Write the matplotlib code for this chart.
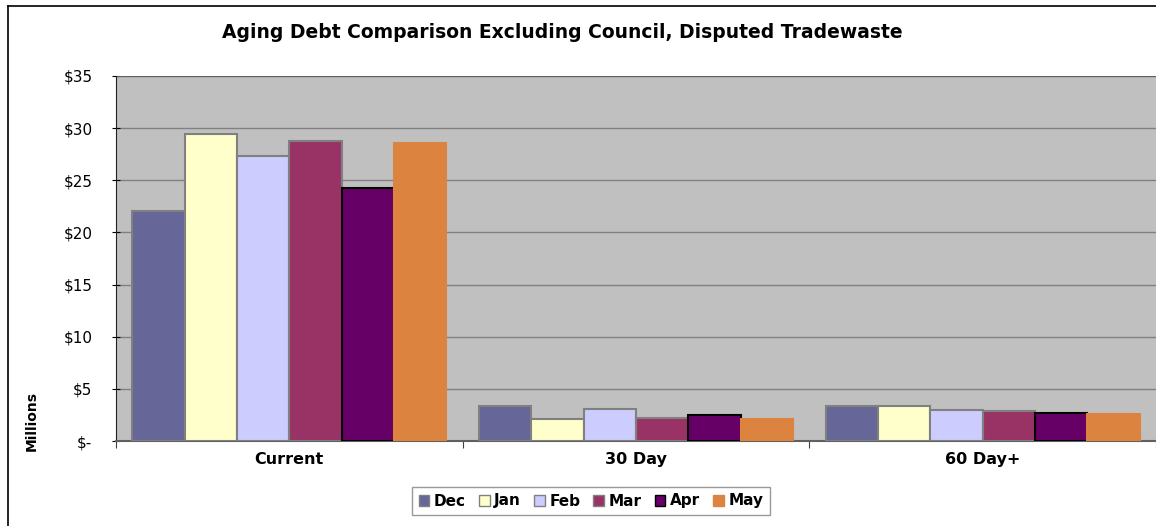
import numpy as np
import matplotlib
matplotlib.use('Agg')
import matplotlib.pyplot as plt
from matplotlib.patches import Patch
from matplotlib.lines import Line2D

plt.rcParams['font.family'] = ['DejaVu Sans']

# chart data (millions)
categories = ['Current', '30 Day', '60 Day+']
months = ['Dec', 'Jan', 'Feb', 'Mar', 'Apr', 'May']
dec = [22.05, 3.40, 3.40]
jan = [29.40, 2.10, 3.40]
feb = [27.30, 3.07, 3.00]
mar = [28.80, 2.25, 2.90]
apr = [24.30, 2.50, 2.70]
may = [28.60, 2.15, 2.55]
yticks = [0, 5, 10, 15, 20, 25, 30, 35]
ytick_labels = ['$-', '$5', '$10', '$15', '$20', '$25', '$30', '$35']

series = [dec, jan, feb, mar, apr, may]
fills = ['#666699', '#FFFFCC', '#CCCCFF', '#993366', '#660066', '#DC843F']
edges = ['#808080', '#808080', '#808080', '#808080', '#000000', '#DC843F']

fig = plt.figure(figsize=(11.56, 5.26), dpi=100)
W, H = 1156, 526
ax = fig.add_axes([116 / W, (H - 441) / H, 1040 / W, 365 / H])
ax.set_facecolor('#C0C0C0')

# outer chart border (left and top visible)
fig.add_artist(Line2D([8 / W, 8 / W], [0, 1 - 6 / H], transform=fig.transFigure, color='black', lw=1.2))
fig.add_artist(Line2D([8 / W, 1], [1 - 6 / H, 1 - 6 / H], transform=fig.transFigure, color='black', lw=1.2))

x = np.arange(len(categories))
barw = 0.151
for i, vals in enumerate(series):
    ax.bar(x + (i - 2.5) * barw, vals, barw, color=fills[i], edgecolor=edges[i],
           linewidth=1.5, label=months[i], zorder=3)

ax.set_xlim(-0.5, 2.5)
ax.set_ylim(0, 35)
ax.set_yticks(yticks)
ax.set_yticklabels(ytick_labels, fontsize=11)
ax.yaxis.grid(True, color='#808080', lw=1, zorder=0)
ax.set_axisbelow(True)

ax.set_xticks([-0.5, 0.5, 1.5, 2.5])
ax.set_xticklabels([])
ax.set_xticks(x, minor=True)
ax.set_xticklabels(categories, minor=True, fontsize=11.5, fontweight='bold')
ax.tick_params(axis='x', which='minor', length=0, pad=8)
ax.tick_params(axis='x', which='major', length=5, direction='out', color='#404040')
ax.tick_params(axis='y', length=6, direction='inout', color='black', pad=14)

for s in ['top', 'right']:
    ax.spines[s].set_visible(False)
ax.spines['left'].set_color('#202020')
ax.spines['bottom'].set_color('#606060')
ax.spines['bottom'].set_linewidth(1.5)
ax.axhline(35, color='#606060', lw=1.5, zorder=2)

fig.text(32 / W, 1 - 421 / H, 'Millions', rotation=90, fontsize=10, fontweight='bold',
         ha='center', va='center')
fig.text(562 / W, 1 - 33 / H, 'Aging Debt Comparison Excluding Council, Disputed Tradewaste',
         fontsize=13.5, fontweight='bold', ha='center', va='center')

handles = [Patch(facecolor=fills[i], edgecolor=edges[i], lw=1) for i in range(6)]
leg = fig.legend(handles, months, loc='center', bbox_to_anchor=(591 / W, 1 - 501 / H),
                 ncol=6, frameon=True, fancybox=False, edgecolor='#808080',
                 prop={'weight': 'bold', 'size': 11}, handlelength=0.7, handleheight=0.7,
                 handletextpad=0.3, columnspacing=0.85, borderpad=0.45)
leg.get_frame().set_linewidth(1)

fig.savefig('out.png', dpi=100)
